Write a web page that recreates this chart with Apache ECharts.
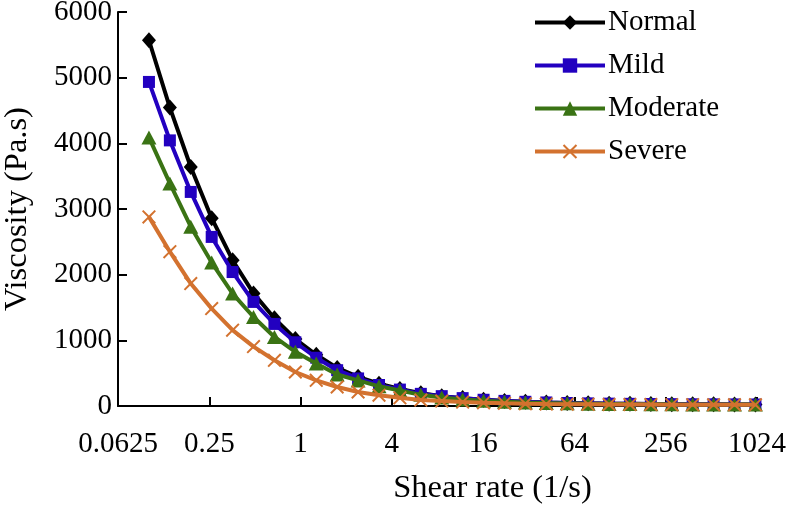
<!DOCTYPE html>
<html>
<head>
<meta charset="utf-8">
<script src="https://cdn.jsdelivr.net/npm/echarts@6/dist/echarts.min.js"></script>
<style>
html,body{margin:0;padding:0;background:#fff;}
#chart{width:788px;height:505px;}
</style>
</head>
<body>
<div id="chart"></div>
<script>
// Shear rate points (1/s), 30 log-spaced points from 0.1 to 1000
var shearRate = [0.1, 0.1374, 0.1887, 0.2593, 0.3562, 0.4894, 0.6723, 0.9237, 1.269, 1.743,
  2.395, 3.290, 4.520, 6.210, 8.532, 11.72, 16.10, 22.12, 30.39, 41.75,
  57.36, 78.80, 108.3, 148.7, 204.3, 280.7, 385.6, 529.8, 727.8, 1000];

var seriesNames = ['Normal', 'Mild', 'Moderate', 'Severe'];

var normal = [5570, 4545, 3640, 2860, 2220, 1715, 1335, 1020, 780, 580,
  445, 340, 260, 195, 150, 120, 95, 78, 64, 54,
  46, 40, 36, 33, 30, 28, 26, 25, 24, 23];
var mild = [4935, 4045, 3260, 2575, 2040, 1585, 1250, 970, 735, 545,
  420, 320, 250, 185, 150, 120, 95, 78, 64, 54,
  46, 40, 36, 33, 30, 28, 26, 25, 24, 23];
var moderate = [4090, 3390, 2730, 2185, 1712, 1355, 1051, 825, 646, 480,
  390, 300, 235, 170, 130, 100, 80, 65, 54, 46,
  40, 36, 32, 29, 27, 25, 24, 23, 22, 21];
var severe = [2880, 2350, 1865, 1483, 1155, 905, 696, 518, 391, 289,
  213, 165, 125, 90, 75, 60, 48, 40, 34, 30,
  27, 25, 23, 22, 21, 20, 20, 19, 19, 18];

var yTicks = [0, 1000, 2000, 3000, 4000, 5000, 6000];
var xTicks = [0.0625, 0.25, 1, 4, 16, 64, 256, 1024];

var FONT = "'Liberation Serif', 'Times New Roman', serif";
var colors = ['#000000', '#2200C0', '#3A7314', '#D3722F'];
var crossPath = 'path://M0,1 L1,0 L5,4 L9,0 L10,1 L6,5 L10,9 L9,10 L5,6 L1,10 L0,9 L4,5 Z';
var symbols = ['diamond', 'rect', 'triangle', crossPath];
var symbolSizes = [[14, 16], 12, [15, 14], 14];
var datasets = [normal, mild, moderate, severe];

function pairs(vals) {
  return shearRate.map(function (x, i) { return [x, vals[i]]; });
}

var chart = echarts.init(document.getElementById('chart'), null, {renderer: 'canvas'});
chart.setOption({
  animation: false,
  backgroundColor: '#ffffff',
  color: colors,
  grid: {left: 118, right: 31, top: 12, bottom: 99, containLabel: false, outerBoundsMode: 'none'},
  legend: {
    orient: 'vertical',
    left: 528,
    top: 3,
    itemWidth: 70,
    itemHeight: 18,
    itemGap: 14,
    lineStyle: {width: 4},
    textStyle: {fontFamily: FONT, fontSize: 29, color: '#000', padding: [0, 0, 0, -2]},
    data: seriesNames
  },
  xAxis: {
    type: 'log',
    logBase: 4,
    min: xTicks[0],
    max: xTicks[xTicks.length - 1],
    splitNumber: xTicks.length - 1,
    name: 'Shear rate (1/s)',
    nameLocation: 'middle',
    nameGap: 66,
    nameTextStyle: {fontFamily: FONT, fontSize: 32.5, color: '#000', padding: [0, 0, 0, 110]},
    axisLine: {lineStyle: {color: '#000', width: 2}},
    axisTick: {inside: true, length: 9, lineStyle: {color: '#000', width: 2}},
    minorTick: {show: false},
    splitLine: {show: false},
    axisLabel: {
      fontFamily: FONT, fontSize: 29, color: '#000', margin: 24,
      formatter: function (v) { return String(Number(v.toPrecision(6))); }
    }
  },
  yAxis: {
    type: 'value',
    min: yTicks[0],
    max: yTicks[yTicks.length - 1],
    interval: 1000,
    name: 'Viscosity (Pa.s)',
    nameLocation: 'middle',
    nameGap: 84,
    nameTextStyle: {fontFamily: FONT, fontSize: 32.5, color: '#000'},
    axisLine: {show: true, lineStyle: {color: '#000', width: 2}},
    axisTick: {show: true, inside: true, length: 9, lineStyle: {color: '#000', width: 2}},
    splitLine: {show: false},
    axisLabel: {
      fontFamily: FONT, fontSize: 29, color: '#000', margin: 6,
      formatter: function (v) { return String(v); }
    }
  },
  series: seriesNames.map(function (name, k) {
    return {
      name: name,
      type: 'line',
      data: pairs(datasets[k]),
      symbol: symbols[k],
      symbolSize: symbolSizes[k],
      showAllSymbol: true,
      lineStyle: {width: 4, color: colors[k]},
      itemStyle: {color: colors[k]},
      z: 10 + k
    };
  })
});
</script>
</body>
</html>
